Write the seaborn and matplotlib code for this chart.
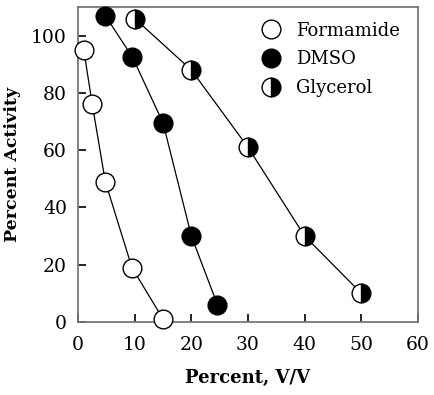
import matplotlib
matplotlib.use("Agg")
import matplotlib.pyplot as plt
import seaborn as sns
import pandas as pd
from matplotlib.lines import Line2D

form_x = [1, 2.5, 4.8, 9.5, 15]
form_y = [95, 76, 49, 19, 1]
dmso_x = [4.8, 9.6, 15, 20, 24.6]
dmso_y = [107, 92.5, 69.5, 30, 6]
gly_x = [10, 20, 30, 40, 50]
gly_y = [106, 88, 61, 30, 10]
xticks = [0, 10, 20, 30, 40, 50, 60]
yticks = [0, 20, 40, 60, 80, 100]

sns.set_style("ticks")
plt.rcParams['font.family'] = ['DejaVu Serif']
plt.rcParams['text.color'] = 'black'
plt.rcParams['axes.labelcolor'] = 'black'
plt.rcParams['xtick.color'] = 'black'
plt.rcParams['ytick.color'] = 'black'

fig = plt.figure(figsize=(4.34, 3.95), dpi=100)
ax = fig.add_axes([0.18, 0.185, 0.783, 0.797])

ms = 13.5
styles = [
    ("Formamide", form_x, form_y, dict(marker='o', mfc='white', mec='black', fillstyle='full')),
    ("DMSO", dmso_x, dmso_y, dict(marker='o', mfc='black', mec='black', fillstyle='full')),
    ("Glycerol", gly_x, gly_y, dict(marker='o', mfc='black', mec='black', fillstyle='right', markerfacecoloralt='white')),
]
handles = []
for name, xs, ys, st in styles:
    df = pd.DataFrame({"x": xs, "y": ys})
    sns.lineplot(data=df, x="x", y="y", ax=ax, color='black', lw=0.9,
                 markersize=ms, markeredgewidth=1.0, zorder=3, clip_on=False, **st)
    handles.append(Line2D([], [], linestyle='none', markersize=13.5, markeredgewidth=1.0, **st))

ax.set_xlim(0, 60)
ax.set_ylim(0, 110)
ax.set_xticks(xticks)
ax.set_yticks(yticks)
ax.tick_params(direction='in', length=5.5, width=1.2, labelsize=13.5,
               color='black', labelcolor='black')
ax.tick_params(axis='x', pad=10)
ax.tick_params(axis='y', pad=8)
for s in ax.spines.values():
    s.set_color('#777777')
    s.set_linewidth(1.3)
ax.set_xlabel("Percent, V/V", fontsize=13, fontweight='bold', labelpad=11, color='black')
ax.set_ylabel("Percent Activity", fontsize=12.5, fontweight='bold', labelpad=7, color='black')

leg = ax.legend(handles, ["Formamide", "DMSO", "Glycerol"], loc='upper right',
                bbox_to_anchor=(0.99, 1.0),
                frameon=False, fontsize=13, handlelength=0.9, handletextpad=0.95,
                labelspacing=0.6, borderaxespad=0.6, borderpad=0.2)
for t in leg.get_texts():
    t.set_color('black')

fig.savefig("out.png", dpi=100)
